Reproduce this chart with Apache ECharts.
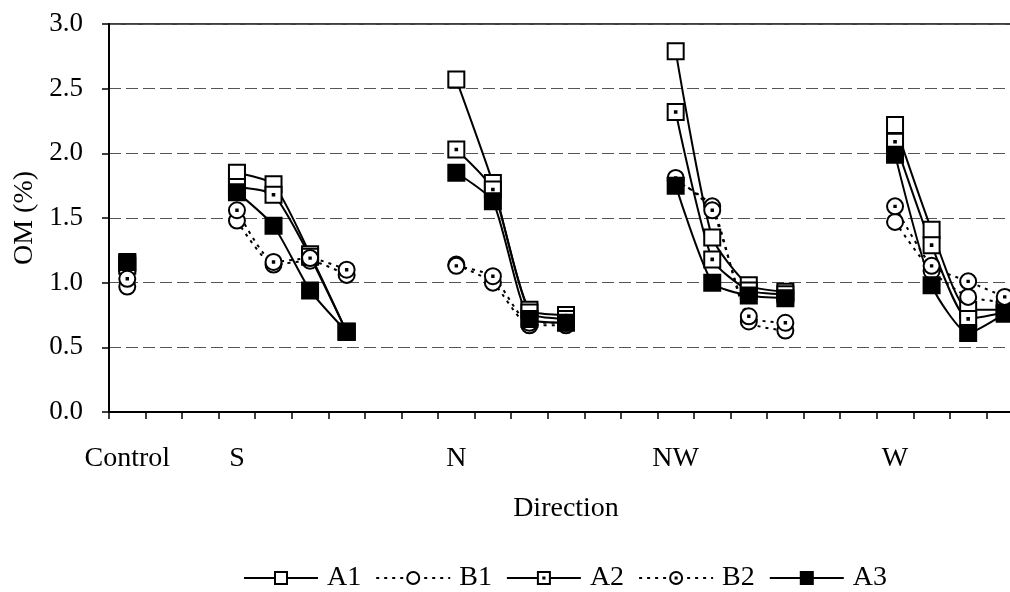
<!DOCTYPE html>
<html>
<head>
<meta charset="utf-8">
<script src="https://cdn.jsdelivr.net/npm/echarts@6/dist/echarts.min.js"></script>
<style>
html,body{margin:0;padding:0;background:#fff;}
#chart{width:1010px;height:592px;}
</style>
</head>
<body>
<div id="chart"></div>
<script>
// 25 category slots: Control, gap, S group, gap, N group, gap, NW group, gap, W group
var categories = ['Control','g1','g2','S1','S2','S3','S4','g3','g4','N1','N2','N3','N4','g5','g6','NW1','NW2','NW3','NW4','g7','g8','W1','W2','W3','W4'];
var tickLabels = ['Control','','','S','','','','','','N','','','','','','NW','','','','','','W','','',''];
var yTicks = [0, 0.5, 1.0, 1.5, 2.0, 2.5, 3.0];

var A1 = [1.15,null,null,1.85,1.76,1.22,0.62,null,null,2.57,1.77,0.79,0.75,null,null,2.79,1.35,0.98,0.93,null,null,2.22,1.41,0.79,0.79];
var B1 = [0.97,null,null,1.48,1.14,1.17,1.06,null,null,1.14,1.00,0.67,0.67,null,null,1.79,1.59,0.70,0.63,null,null,1.47,1.09,0.89,0.85];
var A2 = [1.13,null,null,1.74,1.68,1.20,0.62,null,null,2.03,1.72,0.77,0.72,null,null,2.32,1.18,0.94,0.91,null,null,2.09,1.29,0.72,0.77];
var B2 = [1.03,null,null,1.56,1.16,1.19,1.10,null,null,1.13,1.05,0.69,0.69,null,null,1.81,1.56,0.74,0.69,null,null,1.59,1.13,1.01,0.89];
var A3 = [1.16,null,null,1.70,1.44,0.94,0.62,null,null,1.85,1.63,0.72,0.69,null,null,1.75,1.00,0.90,0.88,null,null,1.99,0.98,0.61,0.76];

var serif = 'Liberation Serif';
var sqDot = 'path://M0,0H16V16H0Z M7.2,7.2H8.8V8.8H7.2Z';
var ciDot = 'path://M8,0A8,8 0 1,1 7.99,0Z M7.3,7.3H8.7V8.7H7.3Z';

function mk(name, data, symbol, fill, dashed) {
  return {
    name: name, type: 'line', data: data,
    symbol: symbol, symbolSize: 16,
    smooth: 0.2, connectNulls: false,
    lineStyle: {color: '#000', width: 2, type: dashed ? [3, 5] : 'solid'},
    itemStyle: {color: fill, borderColor: '#000', borderWidth: 2},
    emphasis: {disabled: true},
    animation: false
  };
}

var chart = echarts.init(document.getElementById('chart'));
chart.setOption({
  backgroundColor: '#fff',
  animation: false,
  grid: {left: 109, width: 914, top: 24, height: 388, outerBoundsMode: 'none', containLabel: false,
         show: true, borderColor: '#000', borderWidth: 1.5, backgroundColor: 'transparent'},
  legend: {
    top: 559, left: 238,
    itemWidth: 74, itemHeight: 15, itemGap: 14,
    textStyle: {fontFamily: serif, fontSize: 28, color: '#000', padding: [0, 0, 0, 4]},
    data: ['A1','B1','A2','B2','A3']
  },
  xAxis: {
    type: 'category', data: categories, boundaryGap: true,
    name: 'Direction', nameLocation: 'middle', nameGap: 83,
    nameTextStyle: {fontFamily: serif, fontSize: 28, color: '#000'},
    axisLine: {lineStyle: {color: '#000', width: 2}},
    axisTick: {show: true, interval: 0, length: 7, lineStyle: {color: '#000', width: 1.5}},
    axisLabel: {interval: 0, margin: 33, fontFamily: serif, fontSize: 28, color: '#000',
      formatter: function (v, i) { return tickLabels[i]; }},
    splitLine: {show: false}
  },
  yAxis: {
    type: 'value', min: yTicks[0], max: yTicks[yTicks.length - 1], interval: 0.5,
    name: 'OM (%)', nameLocation: 'middle', nameGap: 51,
    nameTextStyle: {fontFamily: serif, fontSize: 28, color: '#000'},
    axisLine: {show: true, lineStyle: {color: '#000', width: 2}},
    axisTick: {show: true, inside: false, length: 7, lineStyle: {color: '#000', width: 1.5}},
    axisLabel: {margin: 26, fontFamily: serif, fontSize: 27, color: '#000',
      formatter: function (v) { return v.toFixed(1); }},
    splitLine: {show: true, lineStyle: {color: '#555', width: 1, type: [12, 5]}}
  },
  series: [
    mk('A1', A1, 'rect', '#fff', false),
    mk('B1', B1, 'circle', '#fff', true),
    mk('A2', A2, sqDot, '#fff', false),
    mk('B2', B2, ciDot, '#fff', true),
    mk('A3', A3, 'rect', '#000', false)
  ]
});
</script>
</body>
</html>
